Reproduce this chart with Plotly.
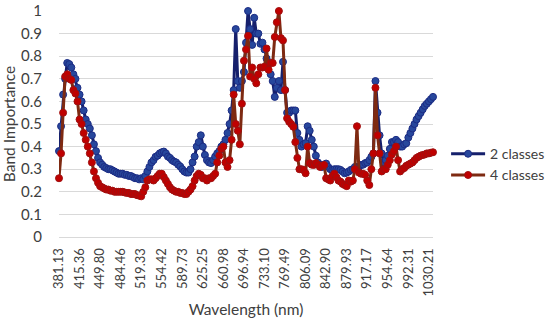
import plotly.graph_objects as go

tick_labels = ["381.13", "415.36", "449.80", "484.46", "519.33", "554.42", "589.73",
               "625.25", "660.98", "696.94", "733.10", "769.49", "806.09", "842.90",
               "879.93", "917.17", "954.64", "992.31", "1030.21"]
tick_band_index = [0, 10, 20, 30, 40, 50, 60, 70, 80, 90, 100, 110, 120, 130, 140, 150, 160, 170, 180]

two_classes = [
    0.38, 0.49, 0.63, 0.70, 0.77, 0.765, 0.75, 0.72, 0.70, 0.66,
    0.63, 0.60, 0.56, 0.52, 0.50, 0.48, 0.45, 0.41, 0.38, 0.35,
    0.33, 0.32, 0.31, 0.305, 0.30, 0.30, 0.295, 0.29, 0.285, 0.28,
    0.28, 0.28, 0.275, 0.275, 0.27, 0.27, 0.265, 0.26, 0.26, 0.255,
    0.26, 0.255, 0.27, 0.29, 0.31, 0.33, 0.34, 0.355, 0.36, 0.37,
    0.375, 0.378, 0.37, 0.356, 0.35, 0.34, 0.334, 0.33, 0.32, 0.312,
    0.30, 0.29, 0.285, 0.285, 0.30, 0.33, 0.356, 0.40, 0.42, 0.45,
    0.40, 0.363, 0.34, 0.33, 0.327, 0.34, 0.356, 0.37, 0.38, 0.40,
    0.41, 0.43, 0.46, 0.50, 0.56, 0.65, 0.92, 0.69, 0.66, 0.69,
    0.73, 0.86, 1.00, 0.92, 0.85, 0.97, 0.90, 0.90, 0.855, 0.86,
    0.83, 0.79, 0.77, 0.72, 0.69, 0.62, 0.66, 0.69, 0.65, 0.775,
    0.65, 0.55, 0.55, 0.56, 0.56, 0.56, 0.46, 0.43, 0.40, 0.41,
    0.415, 0.49, 0.47, 0.43, 0.40, 0.36, 0.33, 0.32, 0.31, 0.32,
    0.325, 0.31, 0.30, 0.297, 0.30, 0.30, 0.30, 0.297, 0.29, 0.282,
    0.285, 0.29, 0.297, 0.30, 0.31, 0.31, 0.31, 0.319, 0.32, 0.327,
    0.33, 0.34, 0.355, 0.37, 0.69, 0.55, 0.45, 0.37, 0.33, 0.34,
    0.36, 0.39, 0.42, 0.42, 0.43, 0.42, 0.40, 0.40, 0.41, 0.415,
    0.44, 0.46, 0.48, 0.50, 0.52, 0.535, 0.55, 0.565, 0.58, 0.59,
    0.60, 0.61, 0.62]

four_classes = [
    0.26, 0.37, 0.55, 0.71, 0.72, 0.70, 0.695, 0.65, 0.635, 0.60,
    0.52, 0.50, 0.46, 0.43, 0.40, 0.37, 0.33, 0.29, 0.26, 0.24,
    0.225, 0.22, 0.215, 0.21, 0.21, 0.205, 0.205, 0.20, 0.20, 0.20,
    0.20, 0.20, 0.197, 0.195, 0.195, 0.19, 0.19, 0.19, 0.185, 0.183,
    0.18, 0.20, 0.22, 0.25, 0.255, 0.255, 0.25, 0.26, 0.27, 0.28,
    0.28, 0.265, 0.25, 0.235, 0.22, 0.21, 0.205, 0.20, 0.20, 0.195,
    0.195, 0.19, 0.19, 0.20, 0.21, 0.225, 0.25, 0.27, 0.28, 0.275,
    0.26, 0.26, 0.25, 0.26, 0.26, 0.27, 0.28, 0.33, 0.36, 0.39,
    0.40, 0.33, 0.31, 0.34, 0.43, 0.63, 0.50, 0.47, 0.41, 0.59,
    0.78, 0.83, 0.89, 0.71, 0.75, 0.70, 0.68, 0.72, 0.75, 0.75,
    0.753, 0.834, 0.74, 0.77, 0.77, 0.885, 0.95, 1.00, 0.88, 0.87,
    0.65, 0.525, 0.51, 0.50, 0.488, 0.42, 0.35, 0.30, 0.30, 0.297,
    0.282, 0.40, 0.327, 0.32, 0.319, 0.327, 0.32, 0.31, 0.315, 0.319,
    0.26, 0.255, 0.25, 0.27, 0.28, 0.265, 0.25, 0.245, 0.235, 0.23,
    0.225, 0.25, 0.245, 0.25, 0.30, 0.49, 0.285, 0.28, 0.28, 0.275,
    0.25, 0.23, 0.30, 0.37, 0.66, 0.45, 0.37, 0.29, 0.30, 0.30,
    0.32, 0.34, 0.365, 0.38, 0.40, 0.34, 0.29, 0.30, 0.305, 0.315,
    0.32, 0.325, 0.33, 0.34, 0.35, 0.355, 0.36, 0.363, 0.365, 0.37,
    0.37, 0.373, 0.375]

band_index = list(range(len(two_classes)))

font_family = "Lato, 'Liberation Sans', sans-serif"

fig = go.Figure()
fig.add_trace(go.Scatter(
    x=band_index, y=two_classes, name="2 classes", mode="lines+markers",
    line=dict(color="#16206C", width=3),
    marker=dict(color="#27479C", size=7, line=dict(color="#1C2C84", width=1)),
    cliponaxis=False))
fig.add_trace(go.Scatter(
    x=band_index, y=four_classes, name="4 classes", mode="lines+markers",
    line=dict(color="#7E2A12", width=3),
    marker=dict(color="#C00000", size=7, line=dict(color="#A01010", width=1)),
    cliponaxis=False))

fig.update_layout(
    width=550, height=325,
    margin=dict(l=59, r=117, t=11, b=88, autoexpand=False),
    paper_bgcolor="white", plot_bgcolor="white",
    font=dict(family=font_family, color="#404040", size=14),
    showlegend=True,
    legend=dict(x=1.035, y=0.32, xanchor="left", yanchor="middle",
                font=dict(size=14, color="#404040"), tracegroupgap=12,
                itemwidth=34),
)
fig.update_xaxes(
    automargin=False,
    range=[0, band_index[-1]],
    tickmode="array", tickvals=tick_band_index, ticktext=tick_labels,
    tickangle=-90, tickfont=dict(size=13, color="#404040"),
    showgrid=False, zeroline=False,
    showline=True, linecolor="#D9D9D9", linewidth=1,
    ticks="outside", ticklen=5, tickcolor="rgba(0,0,0,0)",
    title=dict(text="Wavelength (nm)", font=dict(size=15.5, color="#404040"), standoff=8),
)
fig.update_yaxes(
    automargin=False,
    range=[0, 1.0], tickmode="array",
    tickvals=[0, 0.1, 0.2, 0.3, 0.4, 0.5, 0.6, 0.7, 0.8, 0.9, 1],
    ticktext=["0", "0.1", "0.2", "0.3", "0.4", "0.5", "0.6", "0.7", "0.8", "0.9", "1"],
    tickfont=dict(size=15, color="#404040"),
    showgrid=True, gridcolor="#D9D9D9", gridwidth=1,
    zeroline=False, showline=False,
    ticks="outside", ticklen=13, tickcolor="rgba(0,0,0,0)",
    title=dict(text="Band Importance", font=dict(size=15.5, color="#404040"), standoff=4),
)

fig.write_html("out.html",
               config={"displayModeBar": False},
               post_script="document.body.style.margin='0';document.body.style.padding='0';")
